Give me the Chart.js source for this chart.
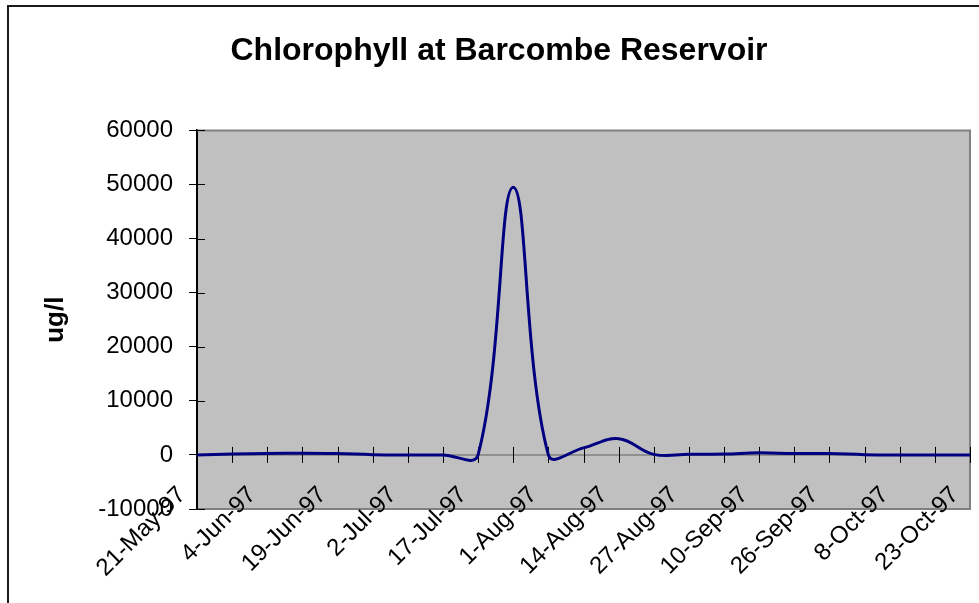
<!DOCTYPE html>
<html>
<head>
<meta charset="utf-8">
<title>Chlorophyll at Barcombe Reservoir</title>
<script src="https://cdn.jsdelivr.net/npm/chart.js@4.4.0/dist/chart.umd.min.js"></script>
<style>
  html, body { margin: 0; padding: 0; background: #fff; }
  #wrap { position: relative; width: 979px; height: 603px; }
</style>
</head>
<body>
<div id="wrap"><canvas id="chlChart"></canvas></div>
<script>
// sample dates (roughly weekly), only every second one is labelled on the axis
const sampleDates = [
    '21-May-97', '28-May-97', '4-Jun-97', '11-Jun-97', '19-Jun-97', '25-Jun-97',
    '2-Jul-97', '9-Jul-97', '17-Jul-97', '24-Jul-97', '1-Aug-97', '7-Aug-97',
    '14-Aug-97', '21-Aug-97', '27-Aug-97', '3-Sep-97', '10-Sep-97', '17-Sep-97',
    '26-Sep-97', '1-Oct-97', '8-Oct-97', '15-Oct-97', '23-Oct-97'
];
const shownDates = [
    '21-May-97', '4-Jun-97', '19-Jun-97', '2-Jul-97', '17-Jul-97', '1-Aug-97',
    '14-Aug-97', '27-Aug-97', '10-Sep-97', '26-Sep-97', '8-Oct-97', '23-Oct-97'
];
const chlorophyll = [
    0, 150, 250, 300, 250, 50,
    0, 0, 0, 49500, 0, 1300,
    3000, 100, 100, 150, 400, 250,
    250, 50, 0, 0, 0
];
const yMin = -10000;
const yMax = 60000;
const yStep = 10000;

const FONT = "'Liberation Sans', Arial, sans-serif";

const excelFrame = {
    id: 'excelFrame',
    beforeDraw(chart) {
        const { ctx, chartArea: a } = chart;
        ctx.save();
        ctx.strokeStyle = '#1a1a1a';
        ctx.lineWidth = 2;
        ctx.beginPath();
        ctx.moveTo(8, chart.height + 5);
        ctx.lineTo(8, 6);
        ctx.lineTo(chart.width + 5, 6);
        ctx.stroke();
        ctx.fillStyle = '#c0c0c0';
        ctx.fillRect(a.left, a.top, a.width, a.height);
        ctx.restore();
    },
    beforeDatasetsDraw(chart) {
        const { ctx, chartArea: a, scales: { x, y } } = chart;
        const y0 = y.getPixelForValue(0);
        ctx.save();
        // gray frame round the plot
        ctx.strokeStyle = '#808080';
        ctx.lineWidth = 2;
        ctx.beginPath();
        ctx.moveTo(a.left, a.top);
        ctx.lineTo(a.right, a.top);
        ctx.lineTo(a.right, a.bottom);
        ctx.stroke();
        // category axis crossing at 0
        ctx.lineWidth = 1.5;
        ctx.beginPath();
        ctx.moveTo(a.left, y0);
        ctx.lineTo(a.right, y0);
        ctx.stroke();
        ctx.strokeStyle = '#000';
        ctx.lineWidth = 1;
        ctx.beginPath();
        x.ticks.forEach((t, i) => {
            const px = Math.round(x.getPixelForTick(i)) + 0.5;
            ctx.moveTo(px, y0 - 8);
            ctx.lineTo(px, y0 + 8);
        });
        y.ticks.forEach((t, i) => {
            const py = Math.round(y.getPixelForTick(i)) + 0.5;
            ctx.moveTo(a.left, py);
            ctx.lineTo(a.left + 8, py);
        });
        ctx.stroke();
        ctx.restore();
    }
};

new Chart(document.getElementById('chlChart'), {
    type: 'line',
    data: {
        labels: sampleDates,
        datasets: [{
            label: 'Chlorophyll',
            data: chlorophyll,
            borderColor: '#000080',
            borderWidth: 3,
            pointRadius: 0,
            tension: 0.4,
            fill: false
        }]
    },
    options: {
        responsive: true,
        maintainAspectRatio: false,
        animation: false,
        layout: { padding: { left: 28, right: 9, top: 0, bottom: 0 } },
        plugins: {
            legend: { display: false },
            tooltip: { enabled: false },
            title: {
                display: true,
                text: 'Chlorophyll at Barcombe Reservoir',
                color: '#000',
                font: { family: FONT, size: 32, weight: 'bold' },
                padding: { top: 32, bottom: 60 }
            }
        },
        scales: {
            x: {
                offset: false,
                afterFit: s => {
                    s.height = 94;
                    // labels overlap the plot like in Excel, so don't clip them to the axis box
                    s._computeLabelArea = () => undefined;
                },
                grid: { display: false },
                border: { display: true, color: '#808080', width: 2 },
                ticks: {
                    autoSkip: false,
                    maxRotation: 45,
                    minRotation: 45,
                    padding: -36,
                    labelOffset: -15,
                    color: '#000',
                    font: { family: FONT, size: 24 },
                    callback: function (v) {
                        const lbl = this.getLabelForValue(v);
                        return shownDates.includes(lbl) ? lbl : '';
                    }
                }
            },
            y: {
                min: yMin,
                max: yMax,
                afterFit: s => { s.width = 169; },
                grid: { display: true, drawOnChartArea: false, drawTicks: true, tickLength: 8, color: '#000' },
                border: { display: true, color: '#000', width: 2 },
                ticks: {
                    stepSize: yStep,
                    padding: 16,
                    color: '#000',
                    font: { family: FONT, size: 24 },
                    callback: v => String(v)
                },
                title: {
                    display: true,
                    text: 'ug/l',
                    color: '#000',
                    font: { family: FONT, size: 26, weight: 'bold' },
                    padding: { top: 12, bottom: 0 }
                }
            }
        }
    },
    plugins: [excelFrame]
});
</script>
</body>
</html>
